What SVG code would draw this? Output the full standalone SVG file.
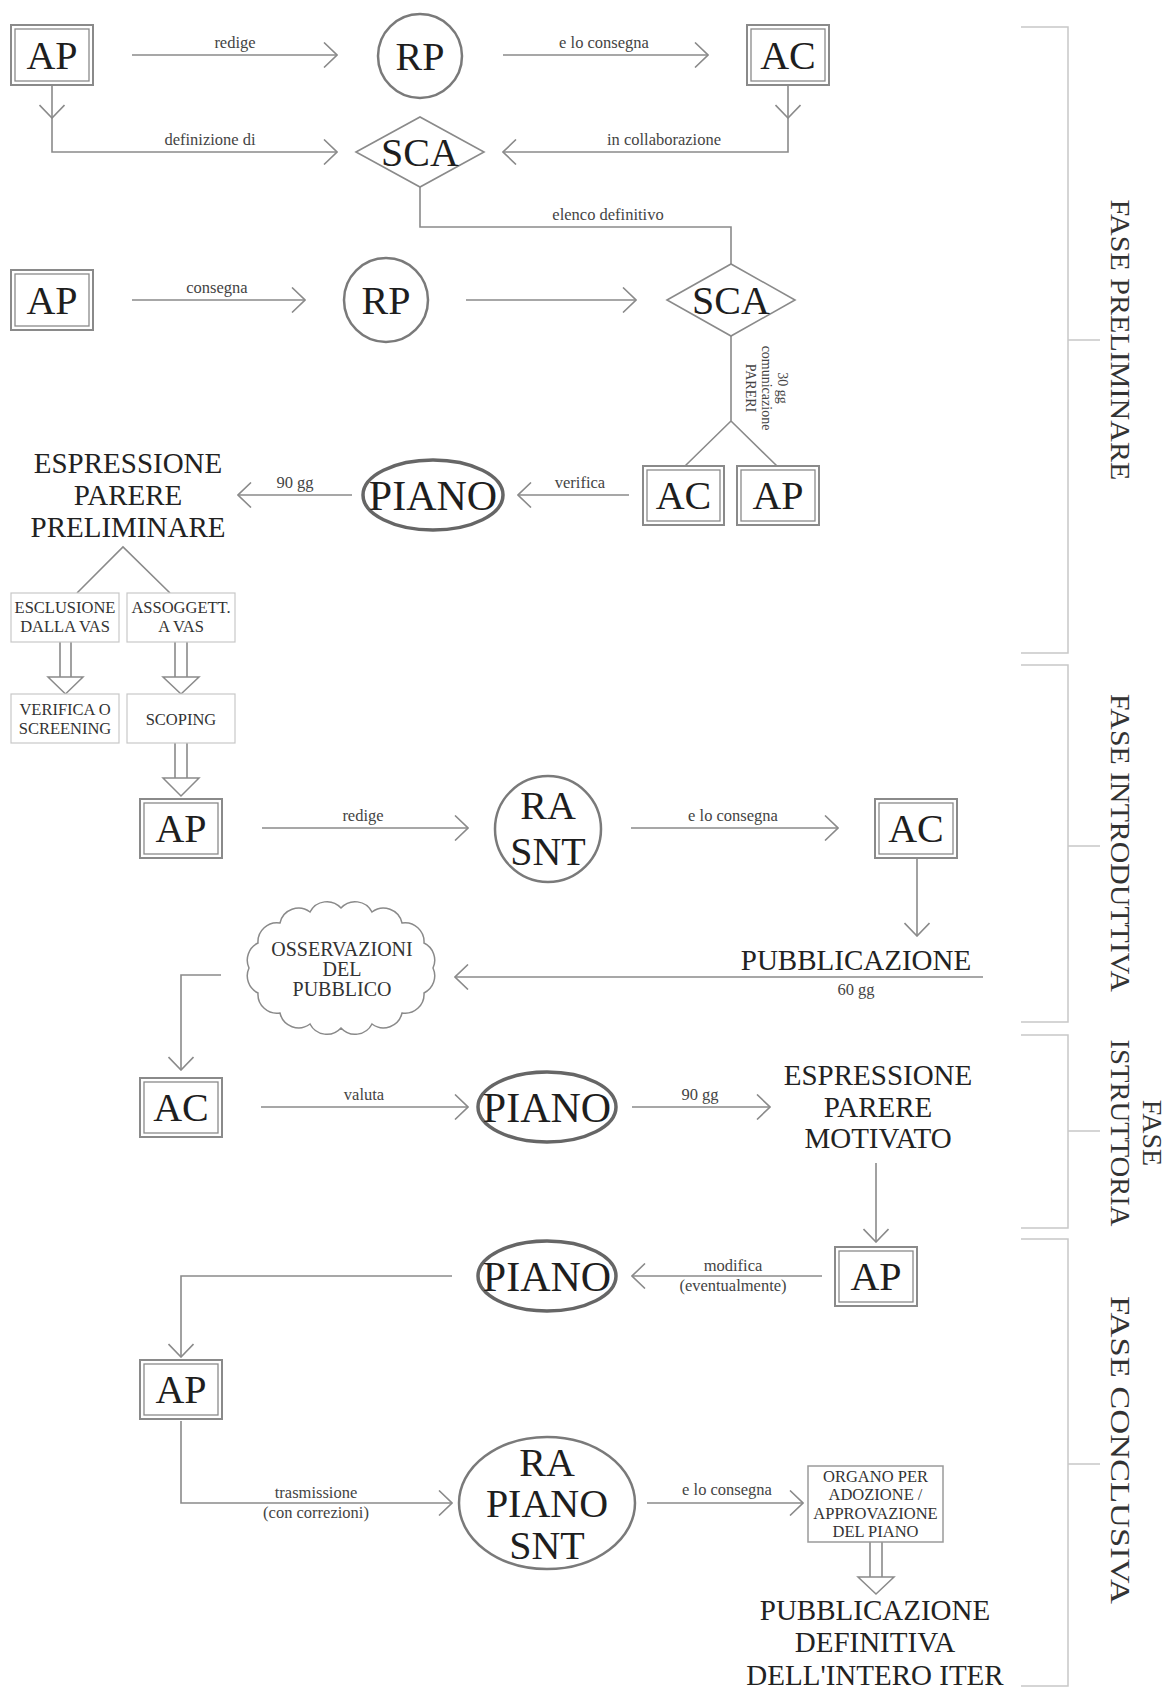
<svg xmlns="http://www.w3.org/2000/svg" width="1167" height="1689" viewBox="0 0 1167 1689">
<style>
.ln{fill:none;stroke:#8a8a8a;stroke-width:1.6}
.ar{marker-end:url(#ah)}
.bo{fill:#fff;stroke:#8a8a8a;stroke-width:2}
.bi{fill:none;stroke:#8a8a8a;stroke-width:1.3}
.lb{fill:#fff;stroke:#c8c8c8;stroke-width:1.2}
.ob{fill:#fff;stroke:#9a9a9a;stroke-width:1.5}
.ci{fill:#fff;stroke:#7a7a7a;stroke-width:2.5}
.el{fill:#fff;stroke:#666;stroke-width:3.5}
.dm{fill:#fff;stroke:#8a8a8a;stroke-width:1.6}
.br{fill:none;stroke:#c8c8c8;stroke-width:1.5}
.ha{fill:#fff;stroke:#8a8a8a;stroke-width:1.5}
text{font-family:"Liberation Serif","DejaVu Serif",serif;text-anchor:middle}
.nd{font-size:40px;fill:#1e1e1e}
.pn{font-size:42px;fill:#1e1e1e}
.t{font-size:16.5px;fill:#444}
.st{font-size:14px;fill:#444}
.bg{font-size:29px;fill:#222}
.sm{font-size:16.5px;fill:#333}
.cl{font-size:20px;fill:#333}
.ph{font-size:28px;fill:#333}
</style>
<defs>
<marker id="ah" viewBox="0 0 16 26" refX="15" refY="13" markerWidth="16" markerHeight="26" markerUnits="userSpaceOnUse" orient="auto">
<path d="M2,0.5 L15,13 L2,25.5" fill="none" stroke="#8a8a8a" stroke-width="1.6"/>
</marker>
</defs>

<g id="connectors">
<path class="ln ar" d="M132,55 H337"/>
<path class="ln ar" d="M503,55 H708"/>
<path class="ln ar" d="M52,85 V118"/>
<path class="ln ar" d="M52,118 V152 H337"/>
<path class="ln ar" d="M788,85 V118"/>
<path class="ln ar" d="M788,118 V152 H503"/>
<path class="ln" d="M420,187 V227 H731 V264"/>
<path class="ln ar" d="M132,300 H305"/>
<path class="ln ar" d="M466,300 H636"/>
<path class="ln" d="M731,336 V421 L685,466 M731,421 L777,466"/>
<path class="ln ar" d="M629,495 H518"/>
<path class="ln ar" d="M352,495 H238"/>
<path class="ln" d="M77,593 L123,547 L170,593"/>
<path class="ln" d="M60,642 V677 M71,642 V677"/>
<path class="ha" d="M48,677 H83 L65.5,694 Z"/>
<path class="ln" d="M175,642 V677 M187,642 V677"/>
<path class="ha" d="M163,677 H199 L181,694 Z"/>
<path class="ln" d="M175,743 V778 M187,743 V778"/>
<path class="ha" d="M163,778 H199 L181,796 Z"/>
<path class="ln ar" d="M262,828 H468"/>
<path class="ln ar" d="M631,828 H838"/>
<path class="ln ar" d="M917,858 V936"/>
<path class="ln ar" d="M983,977 H455"/>
<path class="ln ar" d="M221,975 H181 V1070"/>
<path class="ln ar" d="M261,1107 H468"/>
<path class="ln ar" d="M632,1107 H770"/>
<path class="ln ar" d="M876,1163 V1242"/>
<path class="ln ar" d="M822,1276 H632"/>
<path class="ln ar" d="M452,1276 H181 V1357"/>
<path class="ln ar" d="M181,1421 V1503 H452"/>
<path class="ln ar" d="M647,1503 H803"/>
<path class="ln" d="M870,1542 V1577 M882,1542 V1577"/>
<path class="ha" d="M858,1577 H894 L876,1594 Z"/>

<text class="t" x="235" y="48">redige</text>
<text class="t" x="604" y="48">e lo consegna</text>
<text class="t" x="210" y="145">definizione di</text>
<text class="t" x="664" y="145">in collaborazione</text>
<text class="t" x="608" y="220">elenco definitivo</text>
<text class="t" x="217" y="293">consegna</text>
<g transform="translate(766,388) rotate(90)">
<text class="st" x="0" y="-12">30 gg</text>
<text class="st" x="0" y="4">comunicazione</text>
<text class="st" x="0" y="20">PARERI</text>
</g>
<text class="t" x="580" y="488">verifica</text>
<text class="t" x="295" y="488">90 gg</text>
<text class="t" x="363" y="821">redige</text>
<text class="t" x="733" y="821">e lo consegna</text>
<text class="t" x="856" y="995">60 gg</text>
<text class="t" x="364" y="1100">valuta</text>
<text class="t" x="700" y="1100">90 gg</text>
<text class="t" x="733" y="1271">modifica</text>
<text class="t" x="733" y="1291">(eventualmente)</text>
<text class="t" x="316" y="1498">trasmissione</text>
<text class="t" x="316" y="1518">(con correzioni)</text>
<text class="t" x="727" y="1495">e lo consegna</text>
</g>

<g id="ap1"><rect class="bo" x="11" y="25" width="82" height="60"/><rect class="bi" x="15" y="29" width="74" height="52"/><text class="nd" x="52" y="69">AP</text></g>
<g id="rp1"><circle class="ci" cx="420" cy="56" r="42"/><text class="nd" x="420" y="70">RP</text></g>
<g id="ac1"><rect class="bo" x="747" y="25" width="82" height="60"/><rect class="bi" x="751" y="29" width="74" height="52"/><text class="nd" x="788" y="69">AC</text></g>
<g id="sca1"><path class="dm" d="M356,152 L420,117 L484,152 L420,187 Z"/><text class="nd" x="420" y="166">SCA</text></g>

<g id="ap2"><rect class="bo" x="11" y="270" width="82" height="60"/><rect class="bi" x="15" y="274" width="74" height="52"/><text class="nd" x="52" y="314">AP</text></g>
<g id="rp2"><circle class="ci" cx="386" cy="300" r="42"/><text class="nd" x="386" y="314">RP</text></g>
<g id="sca2"><path class="dm" d="M667,300 L731,264 L795,300 L731,336 Z"/><text class="nd" x="731" y="314">SCA</text></g>

<g id="ac2"><rect class="bo" x="643" y="466" width="81" height="59"/><rect class="bi" x="647" y="470" width="73" height="51"/><text class="nd" x="683.5" y="509">AC</text></g>
<g id="ap2b"><rect class="bo" x="737" y="466" width="82" height="59"/><rect class="bi" x="741" y="470" width="74" height="51"/><text class="nd" x="778" y="509">AP</text></g>
<g id="piano1"><ellipse class="el" cx="433" cy="495" rx="70" ry="35"/><text class="pn" x="433" y="510">PIANO</text></g>
<g id="espressione-preliminare"><text class="bg" x="128" y="473">ESPRESSIONE</text><text class="bg" x="128" y="505">PARERE</text><text class="bg" x="128" y="537">PRELIMINARE</text></g>

<g id="esclusione"><rect class="lb" x="11" y="593" width="108" height="49"/><text class="sm" x="65" y="613">ESCLUSIONE</text><text class="sm" x="65" y="632">DALLA VAS</text></g>
<g id="assoggett"><rect class="lb" x="127" y="593" width="108" height="49"/><text class="sm" x="181" y="613">ASSOGGETT.</text><text class="sm" x="181" y="632">A VAS</text></g>
<g id="verifica"><rect class="lb" x="11" y="694" width="108" height="49"/><text class="sm" x="65" y="715">VERIFICA O</text><text class="sm" x="65" y="734">SCREENING</text></g>
<g id="scoping"><rect class="lb" x="127" y="694" width="108" height="49"/><text class="sm" x="181" y="725">SCOPING</text></g>

<g id="ap3"><rect class="bo" x="140" y="799" width="82" height="59"/><rect class="bi" x="144" y="803" width="74" height="51"/><text class="nd" x="181" y="842">AP</text></g>
<g id="ra-snt"><circle class="ci" cx="548" cy="829" r="53"/><text class="nd" x="548" y="819">RA</text><text class="nd" x="548" y="865">SNT</text></g>
<g id="ac3"><rect class="bo" x="875" y="799" width="82" height="59"/><rect class="bi" x="879" y="803" width="74" height="51"/><text class="nd" x="916" y="842">AC</text></g>
<g id="pubblicazione"><text class="bg" x="856" y="970">PUBBLICAZIONE</text></g>
<g id="osservazioni">
<path fill="#fff" stroke="#8a8a8a" stroke-width="1.5" d="M433,968 A19,19 0 0 1 424,993 A19,19 0 0 1 402,1013 A19,19 0 0 1 372,1024 A19,19 0 0 1 341,1028 A19,19 0 0 1 310,1024 A19,19 0 0 1 280,1013 A19,19 0 0 1 258,993 A19,19 0 0 1 249,968 A19,19 0 0 1 258,943 A19,19 0 0 1 280,923 A19,19 0 0 1 310,912 A19,19 0 0 1 341,908 A19,19 0 0 1 372,912 A19,19 0 0 1 402,923 A19,19 0 0 1 424,943 A19,19 0 0 1 433,968 Z"/>
<text class="cl" x="342" y="956">OSSERVAZIONI</text><text class="cl" x="342" y="976">DEL</text><text class="cl" x="342" y="996">PUBBLICO</text>
</g>

<g id="ac4"><rect class="bo" x="140" y="1078" width="82" height="59"/><rect class="bi" x="144" y="1082" width="74" height="51"/><text class="nd" x="181" y="1121">AC</text></g>
<g id="piano2"><ellipse class="el" cx="547" cy="1107" rx="69" ry="35"/><text class="pn" x="547" y="1122">PIANO</text></g>
<g id="espressione-motivato"><text class="bg" x="878" y="1085">ESPRESSIONE</text><text class="bg" x="878" y="1117">PARERE</text><text class="bg" x="878" y="1148">MOTIVATO</text></g>

<g id="ap5"><rect class="bo" x="835" y="1247" width="82" height="59"/><rect class="bi" x="839" y="1251" width="74" height="51"/><text class="nd" x="876" y="1290">AP</text></g>
<g id="piano3"><ellipse class="el" cx="547" cy="1276" rx="69" ry="35"/><text class="pn" x="547" y="1291">PIANO</text></g>
<g id="ap6"><rect class="bo" x="140" y="1360" width="82" height="59"/><rect class="bi" x="144" y="1364" width="74" height="51"/><text class="nd" x="181" y="1403">AP</text></g>
<g id="ra-piano-snt"><ellipse class="ci" cx="547" cy="1503" rx="88" ry="66"/><text class="nd" x="547" y="1476">RA</text><text class="nd" x="547" y="1517">PIANO</text><text class="nd" x="547" y="1559">SNT</text></g>
<g id="organo"><rect class="ob" x="808" y="1466" width="135" height="76"/><text class="sm" x="875.5" y="1482">ORGANO PER</text><text class="sm" x="875.5" y="1500">ADOZIONE /</text><text class="sm" x="875.5" y="1519">APPROVAZIONE</text><text class="sm" x="875.5" y="1537">DEL PIANO</text></g>
<g id="pubblicazione-definitiva"><text class="bg" x="875" y="1620">PUBBLICAZIONE</text><text class="bg" x="875" y="1652">DEFINITIVA</text><text class="bg" x="875" y="1685">DELL'INTERO ITER</text></g>

<g id="phases">
<path class="br" d="M1021,27 H1068 V653 H1021 M1068,340 H1100"/>
<path class="br" d="M1021,665 H1068 V1022 H1021 M1068,846 H1100"/>
<path class="br" d="M1021,1035 H1068 V1228 H1021 M1068,1131 H1100"/>
<path class="br" d="M1021,1239 H1068 V1686 H1021 M1068,1464 H1100"/>
<text class="ph" transform="translate(1111,340) rotate(90)" x="0" y="0" textLength="281" lengthAdjust="spacingAndGlyphs">FASE  PRELIMINARE</text>
<text class="ph" transform="translate(1111,843) rotate(90)" x="0" y="0" textLength="298" lengthAdjust="spacingAndGlyphs">FASE  INTRODUTTIVA</text>
<text class="ph" transform="translate(1143,1133) rotate(90)" x="0" y="0">FASE</text>
<text class="ph" transform="translate(1111,1133) rotate(90)" x="0" y="0" textLength="187" lengthAdjust="spacingAndGlyphs">ISTRUTTORIA</text>
<text class="ph" transform="translate(1111,1450) rotate(90)" x="0" y="0" textLength="308" lengthAdjust="spacingAndGlyphs">FASE  CONCLUSIVA</text>
</g>
</svg>
